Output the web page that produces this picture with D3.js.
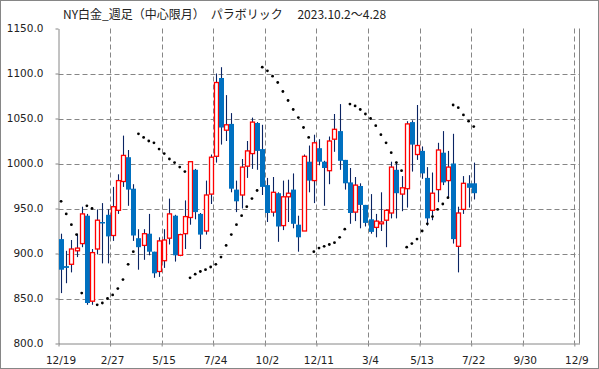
<!DOCTYPE html>
<html>
<head>
<meta charset="utf-8">
<script src="https://cdn.jsdelivr.net/npm/d3@7"></script>
<style>
  body { margin: 0; background: #fff; }
  svg { display: block; }
</style>
</head>
<body>
<svg id="chart" width="599" height="369"></svg>
<script>
// weekly OHLC, oldest first
const opens  = [916,886,888,903,911,942,847,905,935,943, 920,948,980,1007,972,917,909,922,902,880,
                892,917,942,898,922,940,993,944,925,966, 1008,1095,1037,1044,971,965,997,1011,1045,1016,
                976,946,967,931,963,971,932,925,1002,981, 1017,1002,992,1027,1036,1004,979,946,975,954,
                938,929,933,937,945,993,966,972,1046,1010, 1014,984,948,971,1012,981,1000,908,949,978,
                978];
const highs  = [922,903,915,922,952,944,905,949,956,949, 974,988,1031,1015,977,927,927,944,902,918,
                927,961,943,922,959,1002,994,945,981,1010, 1100,1107,1076,1056,981,1005,1025,1051,1046,1043,
                984,985,968,981,982,989,942,1010,1020,1032, 1027,1003,1030,1055,1066,1004,995,985,978,954,
                966,944,968,949,1002,1002,986,1047,1048,1065, 1019,996,990,1023,1036,1014,1033,952,986,987,
                1001];
const lows   = [856,867,879,896,907,843,843,899,889,889, 914,944,974,953,914,882,893,898,873,874,
                884,910,891,897,905,932,938,905,921,955, 1001,1021,1025,968,946,950,984,994,993,965,
                935,941,913,926,935,928,902,925,968,956, 998,953,977,1013,993,971,933,936,928,930,
                922,918,925,907,939,939,947,951,991,1004, 983,931,937,957,976,962,911,879,944,951,
                960];
const closes = [882,884,905,906,944,845,901,937,934,919, 952,981,1009,971,920,907,922,902,878,914,
                915,944,898,921,941,1002,946,921,965,1007, 1090,1040,1043,972,958,996,1014,1046,1014,974,
                945,968,930,963,967,933,918,1008,981,1023, 1002,995,1025,1038,1003,978,945,976,954,934,
                924,936,935,948,996,967,973,1044,1021,1020, 989,939,967,1015,979,996,916,945,978,973,
                967];
// parabolic SAR
const sar = [958,944,932,921,856,953,950,843,845,850, 854,861,871,888,902,1033,1029,1025,1023,1016,
             1011,1005,1001,996,991,873,877,880,882,885, 888,896,909,921,932,942,952,961,970,1107,
             1103,1097,1090,1080,1070,1060,1051,1040,1029,902, 906,908,910,912,918,927,1066,1064,1060,1055,
             1050,1042,1032,1023,1012,1001,992,907,911,916, 925,933,941,949,955,962,1065,1062,1054,1047,
             1041];
const xLabels = ["12/19","2/27","5/15","7/24","10/2","12/11","3/4","5/13","7/22","9/30","12/9"];
const yTicks = [800,850,900,950,1000,1050,1100,1150];
const title = "NY白金_週足（中心限月）　パラボリック　 2023.10.2～4.28";

const candles = opens.map((o, i) => ({i, o, h: highs[i], l: lows[i], c: closes[i], s: sar[i]}));

const svg = d3.select("#chart");
const plotLeft = 58.5, plotRight = 579.5, plotTop = 28.5, plotBottom = 343.5;
const nSlots = 101;

const x = d3.scaleLinear().domain([0, nSlots]).range([plotLeft, plotRight]);
const y = d3.scaleLinear().domain([800, 1150]).range([plotBottom, plotTop]);

const grey = "#868686";
const font = "'DejaVu Sans', Verdana, sans-serif";

// outer frame
svg.append("rect")
    .attr("x", 0.5).attr("y", 0.5)
    .attr("width", 598).attr("height", 368)
    .attr("fill", "white")
    .attr("stroke", grey);

// grid
svg.append("g").selectAll("line").data(yTicks.filter(v => v > 800 && v < 1150))
    .enter().append("line")
    .attr("x1", plotLeft).attr("x2", plotRight)
    .attr("y1", d => Math.round(y(d)) + 0.5).attr("y2", d => Math.round(y(d)) + 0.5)
    .attr("stroke", grey).attr("stroke-dasharray", "5,3");

svg.append("g").selectAll("line").data(d3.range(10, nSlots, 10))
    .enter().append("line")
    .attr("x1", d => Math.round(x(d)) + 0.5).attr("x2", d => Math.round(x(d)) + 0.5)
    .attr("y1", plotTop).attr("y2", plotBottom)
    .attr("stroke", grey).attr("stroke-dasharray", "5,3");

// right border of plot
svg.append("line")
    .attr("x1", plotRight).attr("x2", plotRight).attr("y1", plotTop).attr("y2", plotBottom)
    .attr("stroke", grey);

// axes
const xAxis = svg.append("g")
    .attr("transform", "translate(0," + plotBottom + ")")
    .call(d3.axisBottom(x)
        .tickValues(d3.range(0, nSlots, 10))
        .tickFormat((d, i) => xLabels[i])
        .tickSize(3).tickSizeOuter(0).tickPadding(10));

const yAxis = svg.append("g")
    .attr("transform", "translate(" + plotLeft + ",0)")
    .call(d3.axisLeft(y)
        .tickValues(yTicks)
        .tickFormat(d3.format(".1f"))
        .tickSize(3).tickSizeOuter(0).tickPadding(10));

svg.selectAll(".domain, .tick line").attr("stroke", grey);
svg.selectAll(".tick text")
    .attr("fill", "#222")
    .attr("font-family", font)
    .attr("font-size", 10.5);
xAxis.selectAll(".tick text").attr("dx", 2);
yAxis.selectAll(".tick text").attr("dx", -2);

// title
svg.append("text")
    .attr("x", 63).attr("y", 19)
    .attr("font-family", "'Noto Sans CJK JP', sans-serif")
    .attr("font-size", 12)
    .attr("fill", "#222")
    .text(title);

// candles
const bodyW = 4;
const cg = svg.append("g").selectAll("g").data(candles).enter().append("g")
    .attr("transform", d => "translate(" + (Math.round(x(d.i + 0.5)) + 0.5) + ",0)");

cg.append("line")
    .attr("y1", d => y(d.h)).attr("y2", d => y(d.l))
    .attr("stroke", "#0a2463").attr("stroke-width", 1.1);

cg.filter(d => d.c < d.o).append("rect")
    .attr("x", -bodyW / 2 - 0.5)
    .attr("y", d => y(d.o))
    .attr("width", bodyW + 1)
    .attr("height", d => Math.max(1.5, y(d.c) - y(d.o)))
    .attr("fill", "#0070c0");

cg.filter(d => d.c >= d.o).append("rect")
    .attr("x", -bodyW / 2)
    .attr("y", d => y(d.c))
    .attr("width", bodyW)
    .attr("height", d => Math.max(1.5, y(d.o) - y(d.c)))
    .attr("fill", "white")
    .attr("stroke", "#ff0000")
    .attr("stroke-width", 1.3);

// SAR dots
svg.append("g").selectAll("circle").data(candles).enter().append("circle")
    .attr("cx", d => x(d.i + 0.5))
    .attr("cy", d => y(d.s))
    .attr("r", 1.4)
    .attr("fill", "#000");
</script>
</body>
</html>
